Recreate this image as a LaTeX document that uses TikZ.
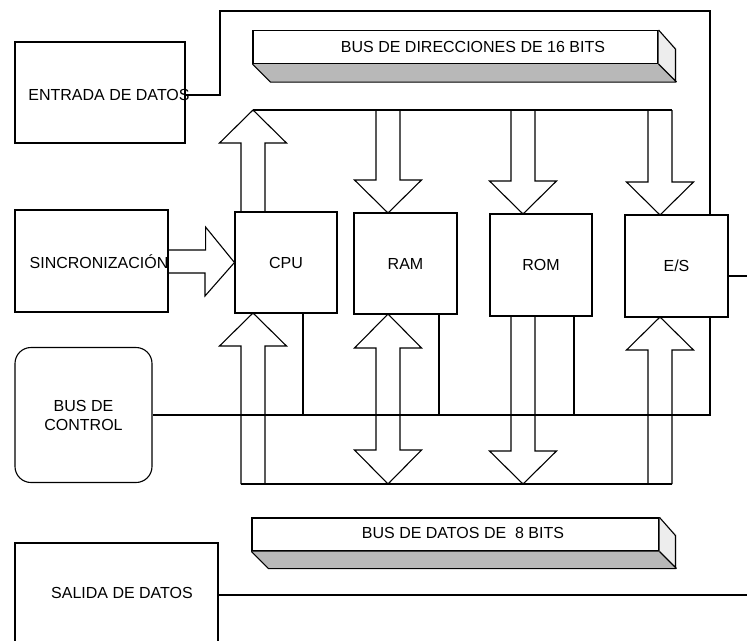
\documentclass[tikz,border=0pt]{standalone}
\usepackage{fontspec}
\setmainfont{Liberation Sans}
\usetikzlibrary{calc}
\begin{document}
\begin{tikzpicture}[x=1pt,y=-1pt,
  line/.style={draw=black,line width=1.1pt,line join=miter},
  box/.style={draw=black,line width=1.1pt,fill=white,inner sep=0pt,
    font=\fontsize{16}{19}\selectfont},
  lbl/.style={inner sep=0pt,font=\fontsize{16}{19}\selectfont},
  barface/.style={draw=black,line width=1.1pt,fill=white,inner sep=0pt,
    minimum height=33pt},
  shadebottom/.style={fill=black!28},
  shadeside/.style={fill=black!7}]
\useasboundingbox (0,0) rectangle (747,640);

% peripheral blocks
\node[box,minimum width=170pt,minimum height=101pt] (entrada) at (100,92.5) {};
\node[lbl] (entradaTxt) at (109,95) {ENTRADA DE DATOS};
\node[box,minimum width=153pt,minimum height=102pt] (sinc) at (91.5,261) {};
\node[lbl] (sincTxt) at (99,262) {SINCRONIZACIÓN};
\node[box,rounded corners=16pt,minimum width=137pt,minimum height=135pt,
  align=center] (control) at (83.5,415) {BUS DE\\CONTROL};
\node[box,minimum width=203pt,minimum height=117pt] (salida) at (116.5,601.5) {};
\node[lbl] (salidaTxt) at (122,593) {SALIDA DE DATOS};

% microcomputer units
\node[box,minimum width=102pt,minimum height=101pt] (cpu) at (286,262.5) {CPU};
\node[box,minimum width=103pt,minimum height=101pt] (ram) at (405.5,263.5) {RAM};
\node[box,minimum width=102pt,minimum height=102pt] (rom) at (541,265) {ROM};
\node[box,minimum width=103pt,minimum height=102pt] (es) at (676.5,266) {E/S};

% address bus (3D bar)
\node[barface,minimum width=405pt] (dirbus) at (455.5,47) {};
\fill[shadebottom] (dirbus.south west) -- (dirbus.south east) -- ++(18,18)
  -- ($(dirbus.south west)+(18,18)$) -- cycle;
\fill[shadeside] (dirbus.north east) -- ++(18,18) -- ++(0,33) -- (dirbus.south east) -- cycle;
\draw[line] (dirbus.south west) -- ++(18,18) -- ++(405,0) -- ++(0,-33) -- (dirbus.north east)
  (dirbus.south east) -- ++(18,18);
\node[lbl] (dirbusTxt) at (473,47) {BUS DE DIRECCIONES DE 16 BITS};

% data bus (3D bar)
\node[barface,minimum width=407pt] (datbus) at (455.5,534.5) {};
\fill[shadebottom] (datbus.south west) -- (datbus.south east) -- ++(17,17)
  -- ($(datbus.south west)+(17,17)$) -- cycle;
\fill[shadeside] (datbus.north east) -- ++(17,17) -- ++(0,33) -- (datbus.south east) -- cycle;
\draw[line] (datbus.south west) -- ++(17,17) -- ++(407,0) -- ++(0,-33) -- (datbus.north east)
  (datbus.south east) -- ++(17,17);
\node[lbl] (datbusTxt) at (463,533) {BUS DE DATOS DE \ 8 BITS};

% block arrows: tip, shaft length
\newcommand\busDown[2]{\draw[line] (#1) -- ++(-33.5,-33) -- ++(21.5,0) -- ++(0,-#2)
  (#1) -- ++(33.5,-33) -- ++(-21.5,0) -- ++(0,-#2);}
\newcommand\busUp[2]{\draw[line] (#1) -- ++(-33.5,33) -- ++(21.5,0) -- ++(0,#2)
  (#1) -- ++(33.5,33) -- ++(-21.5,0) -- ++(0,#2);}

% address bus trunk and its arrows
\coordinate (abusL) at (253,110);
\coordinate (abusR) at (672,110);
\draw[line] (abusL) -- (abusR);
\busUp{abusL}{69}
\coordinate (ramIn) at (388,213);
\coordinate (romIn) at (523,214);
\coordinate (esIn) at (660,215);
\busDown{ramIn}{70}
\busDown{romIn}{71}
\busDown{esIn}{72}

% data bus trunk and its arrows
\coordinate (dbusL) at (241,484);
\coordinate (dbusR) at (672,484);
\draw[line] (dbusL) -- (dbusR);
\coordinate (cpuData) at (253,313);
\coordinate (esData) at (660,317);
\coordinate (romData) at (523,484);
\coordinate (ramData) at (388,314);
\busUp{cpuData}{138}
\busUp{esData}{134}
\busDown{romData}{135}
\draw[line] (ramData) -- ++(-33.5,34) -- ++(21.5,0) -- ++(0,102) -- ++(-21.5,0)
  -- ++(33.5,34) -- ++(33.5,-34) -- ++(-21.5,0) -- ++(0,-102) -- ++(21.5,0) -- cycle;

% clock into CPU
\draw[line] (sinc.east |- 0,250) -- ++(37,0) -- ++(0,-23) -- (cpu.west)
  -- (205,296) -- ++(0,-23) -- (sinc.east |- 0,273);

% control lines
\draw[line] (entrada.east |- 0,95) -- (220,95) -- (220,11) -- (710,11) -- (710,0 |- es.north);
\draw[line] (710,0 |- es.south) -- (710,415) -- (control.east);
\draw[line] (303,0 |- cpu.south) -- (303,415);
\draw[line] (439,0 |- ram.south) -- (439,415);
\draw[line] (574,0 |- rom.south) -- (574,415);
\coordinate (esOut) at (747,276);
\draw[line] (es.east |- esOut) -- (esOut);
\coordinate (salidaOut) at (747,595);
\draw[line] (salida.east |- salidaOut) -- (salidaOut);
\end{tikzpicture}
\end{document}
